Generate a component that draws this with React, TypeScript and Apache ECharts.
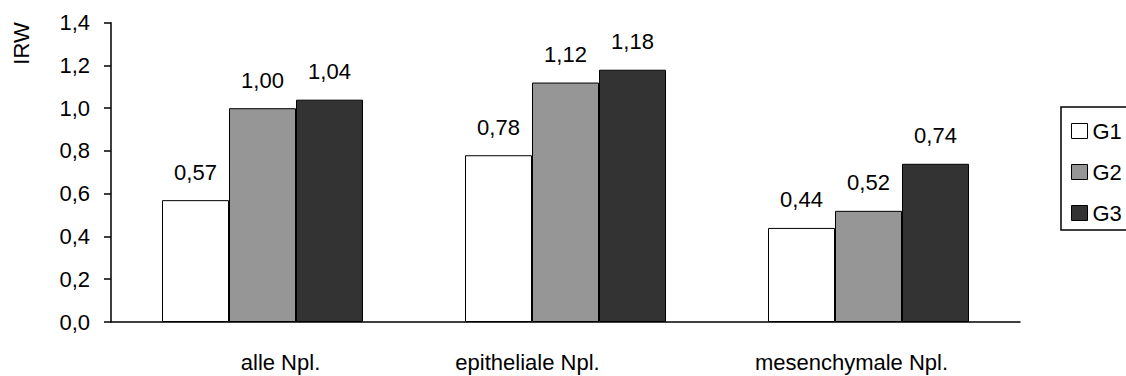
import React, { useEffect, useRef } from "react";
import * as echarts from "echarts";

const categories = ["alle Npl.", "epitheliale Npl.", "mesenchymale Npl."];
const seriesNames = ["G1", "G2", "G3"];
const g1Values = [0.57, 0.78, 0.44];
const g2Values = [1.0, 1.12, 0.52];
const g3Values = [1.04, 1.18, 0.74];
const yTicks = [0, 0.2, 0.4, 0.6, 0.8, 1.0, 1.2, 1.4];
const yAxisTitle = "IRW";

const colors = ["#ffffff", "#969696", "#333333"];
const FONT = "'Liberation Sans', Arial, sans-serif";

const fmt = (v: number, d: number) => v.toFixed(d).replace(".", ",");

export default function App() {
  const ref = useRef<HTMLDivElement>(null);
  useEffect(() => {
    if (!ref.current) return;
    const chart = echarts.init(ref.current, undefined, { renderer: "svg" });
    const values = [g1Values, g2Values, g3Values];
    chart.setOption({
      animation: false,
      backgroundColor: "#ffffff",
      textStyle: { fontFamily: FONT, color: "#000" },
      grid: { left: 111, right: 106, top: 22.7, bottom: 54 },
      legend: {
        orient: "vertical",
        left: 1061,
        top: 107,
        itemWidth: 16,
        itemHeight: 15,
        itemGap: 19,
        padding: [13, 0, 10, 10],
        borderWidth: 0,
        icon: "rect",
        textStyle: { fontFamily: FONT, fontSize: 22, color: "#000" },
        data: seriesNames.map((n, i) => ({
          name: n,
          itemStyle: { color: colors[i], borderColor: "#000", borderWidth: 1 },
        })),
      },
      xAxis: {
        type: "category",
        data: categories,
        axisLine: { lineStyle: { color: "#000", width: 1.5 } },
        axisTick: { length: 8, lineStyle: { color: "#000", width: 1.5 } },
        axisLabel: {
          margin: 29,
          color: "#000",
          fontFamily: FONT,
          fontSize: 22,
          formatter: (v: string, i: number) => `{l${i}|${v}}`,
          rich: {
            l0: { fontFamily: FONT, fontSize: 22, padding: [0, 0, 0, 36] },
            l1: { fontFamily: FONT, fontSize: 22, padding: [0, 76, 0, 0] },
            l2: { fontFamily: FONT, fontSize: 22, padding: [0, 34, 0, 0] },
          },
        },
      },
      yAxis: {
        type: "value",
        min: yTicks[0],
        max: yTicks[yTicks.length - 1],
        interval: 0.2,
        splitLine: { show: false },
        axisLine: { show: true, lineStyle: { color: "#000", width: 1.5 } },
        axisTick: { show: true, length: 7, lineStyle: { color: "#000", width: 1.5 } },
        axisLabel: {
          margin: 21,
          color: "#000",
          fontFamily: FONT,
          fontSize: 22,
          formatter: (v: number) => fmt(v, 1),
        },
      },
      graphic: [
        {
          type: "text",
          x: 21,
          y: 43.5,
          rotation: Math.PI / 2,
          style: {
            text: yAxisTitle,
            fontFamily: FONT,
            fontSize: 22,
            fill: "#000",
            align: "center",
            verticalAlign: "middle",
          },
        },
        {
          type: "polyline",
          shape: { points: [[1140, 107], [1061, 107], [1061, 230], [1140, 230]] },
          style: { fill: "none", stroke: "#000", lineWidth: 1.5 },
          silent: true,
        },
      ],
      series: seriesNames.map((n, i) => ({
        name: n,
        type: "bar",
        data: values[i],
        barWidth: 67,
        barGap: "0%",
        itemStyle: { color: colors[i], borderColor: "#000", borderWidth: 1 },
        label: {
          show: true,
          position: "top",
          distance: 17,
          color: "#000",
          fontFamily: FONT,
          fontSize: 22,
          formatter: (p: any) => fmt(p.value, 2),
        },
      })),
    });
    return () => chart.dispose();
  }, []);
  return (
    <div
      ref={ref}
      style={{ position: "absolute", left: 0, top: 0, width: 1126, height: 376 }}
    />
  );
}
